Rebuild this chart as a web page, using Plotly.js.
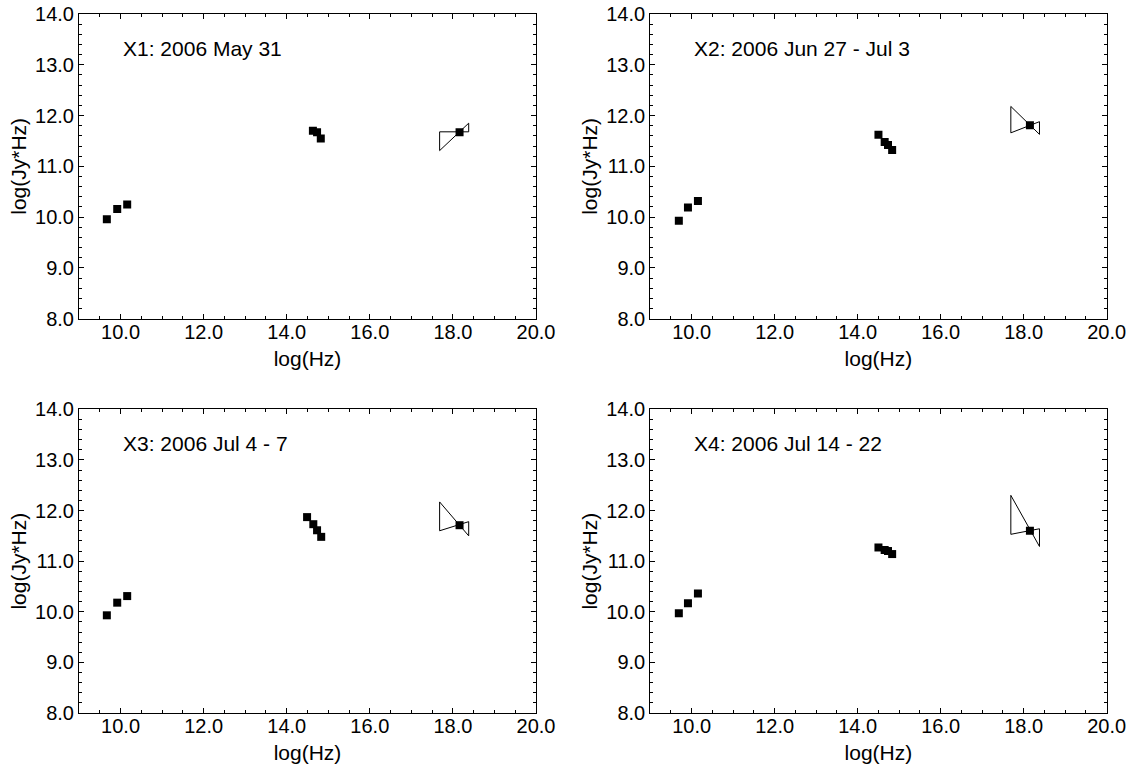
<!DOCTYPE html>
<html>
<head>
<meta charset="utf-8">
<script src="https://cdn.plot.ly/plotly-3.0.1.min.js"></script>
<style>html,body{margin:0;padding:0;background:#fff;}#chart{width:1129px;height:768px;}</style>
</head>
<body>
<div id="chart"></div>
<script>
// Panel labels
const panelLabels = ["X1: 2006 May 31", "X2: 2006 Jun 27 - Jul 3", "X3: 2006 Jul 4 - 7", "X4: 2006 Jul 14 - 22"];

// Radio points (log Hz, log Jy*Hz)
const radioX = [[9.67, 9.92, 10.16], [9.69, 9.91, 10.15], [9.67, 9.92, 10.16], [9.69, 9.91, 10.15]];
const radioY = [[9.96, 10.16, 10.25], [9.93, 10.19, 10.32], [9.93, 10.18, 10.31], [9.97, 10.17, 10.36]];

// Optical/UV points
const optX = [[14.63, 14.73, 14.82], [14.50, 14.65, 14.73, 14.83], [14.49, 14.64, 14.73, 14.83], [14.50, 14.65, 14.73, 14.83]];
const optY = [[11.70, 11.67, 11.55], [11.62, 11.48, 11.42, 11.32], [11.87, 11.73, 11.61, 11.48], [11.27, 11.22, 11.20, 11.14]];

// X-ray points
const xrayX = [18.16, 18.15, 18.16, 18.15];
const xrayY = [11.67, 11.81, 11.71, 11.60];

// X-ray bow-tie: band edges [xLow, xHigh], line A (aLow -> aHigh), line B (bLow -> bHigh)
const bowXLow = [17.68, 17.69, 17.68, 17.69];
const bowXHigh = [18.38, 18.38, 18.38, 18.38];
const bowALow = [11.68, 12.18, 12.17, 12.30];
const bowAHigh = [11.68, 11.63, 11.50, 11.29];
const bowBLow = [11.31, 11.66, 11.60, 11.53];
const bowBHigh = [11.85, 11.88, 11.78, 11.64];

// Axis ranges
const xRange = [9, 20];
const yRange = [8, 14];

const W = 1129, H = 768;
const xDomains = [[79 / W, 536 / W], [650.2 / W, 1106.7 / W], [79 / W, 536 / W], [650.2 / W, 1106.7 / W]];
const yDomains = [[1 - 318.7 / H, 1 - 14 / H], [1 - 318.7 / H, 1 - 14 / H], [1 - 713 / H, 1 - 409.3 / H], [1 - 713 / H, 1 - 409.3 / H]];

const FONT = "Liberation Sans, Arial, Helvetica, sans-serif";
const traces = [];
const layout = {
  width: W, height: H,
  margin: {l: 0, r: 0, t: 0, b: 0},
  paper_bgcolor: "#fff", plot_bgcolor: "#fff",
  showlegend: false,
  font: {family: FONT, size: 20, color: "#000"},
  annotations: []
};

for (let i = 0; i < 4; i++) {
  const s = i === 0 ? "" : String(i + 1);
  const xa = "x" + s, ya = "y" + s;
  traces.push({
    type: "scatter", mode: "lines", xaxis: xa, yaxis: ya,
    x: [bowXLow[i], bowXHigh[i], bowXHigh[i], bowXLow[i], bowXLow[i]],
    y: [bowALow[i], bowAHigh[i], bowBHigh[i], bowBLow[i], bowALow[i]],
    line: {color: "#000", width: 1}, hoverinfo: "skip"
  });
  traces.push({
    type: "scatter", mode: "markers", xaxis: xa, yaxis: ya,
    x: radioX[i].concat(optX[i], [xrayX[i]]),
    y: radioY[i].concat(optY[i], [xrayY[i]]),
    marker: {symbol: "square", size: 8, color: "#000"}
  });
  const axCommon = {
    showgrid: false, zeroline: false, showline: true, linecolor: "#000", linewidth: 1,
    mirror: "allticks", ticks: "inside", ticklen: 5, tickwidth: 1, tickcolor: "#000",
    tickformat: ".1f", tickfont: {family: FONT, size: 20, color: "#000"}
  };
  layout["xaxis" + s] = Object.assign({}, axCommon, {
    domain: xDomains[i], anchor: ya, range: xRange, tick0: 0, dtick: 2,
    ticklabelstandoff: -5,
    minor: {dtick: 0.5, ticks: "inside", ticklen: 3, tickcolor: "#000", showgrid: false},
    title: {text: "log(Hz)", font: {family: FONT, size: 21, color: "#000"}, standoff: 9}
  });
  layout["yaxis" + s] = Object.assign({}, axCommon, {
    domain: yDomains[i], anchor: xa, range: yRange, tick0: 0, dtick: 1,
    minor: {dtick: 0.2, ticks: "inside", ticklen: 3, tickcolor: "#000", showgrid: false},
    title: {text: "log(Jy*Hz)", font: {family: FONT, size: 21, color: "#000"}, standoff: 2}
  });
  layout.annotations.push({
    xref: xa, yref: ya, x: 10.0, y: 13.33, xanchor: "left", yanchor: "middle",
    text: panelLabels[i], showarrow: false, font: {family: FONT, size: 21, color: "#000"}
  });
}

Plotly.newPlot("chart", traces, layout, {displayModeBar: false, staticPlot: true});
</script>
</body>
</html>
